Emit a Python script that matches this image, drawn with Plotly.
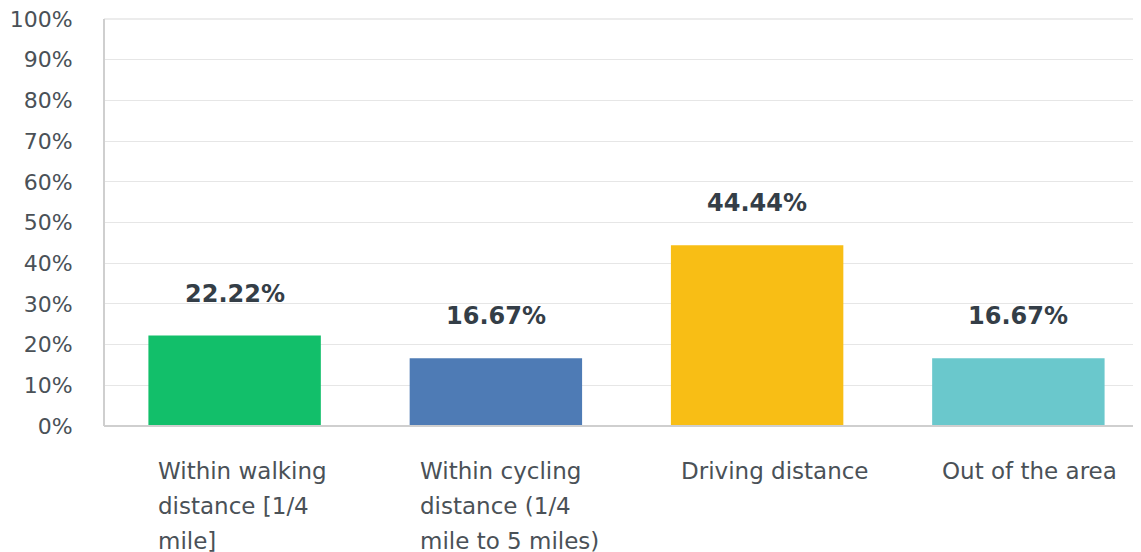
import plotly.graph_objects as go

categories = ["Within walking<br>distance [1/4<br>mile]",
              "Within cycling<br>distance (1/4<br>mile to 5 miles)",
              "Driving distance",
              "Out of the area"]
values = [22.22, 16.67, 44.44, 16.67]
colors = ["#12BF6A", "#4E7BB5", "#F8BE15", "#6AC8CC"]
value_labels = ["22.22%", "16.67%", "44.44%", "16.67%"]
y_ticks = list(range(0, 101, 10))
y_tick_labels = [f"{t}%" for t in y_ticks]

BAR_W = 0.66
FONT = "DejaVu Sans"

fig = go.Figure()
fig.add_trace(go.Bar(
    x=list(range(len(categories))),
    y=values,
    width=BAR_W,
    marker=dict(color=colors, line=dict(width=0)),
    hoverinfo="skip",
))

annotations = []
for i, (v, lab) in enumerate(zip(values, value_labels)):
    annotations.append(dict(
        x=i, y=v, xref="x", yref="y", text=f"<b>{lab}</b>",
        showarrow=False, yanchor="middle", yshift=42,
        font=dict(family=FONT, size=24, color="#343E47"),
    ))
for i, cat in enumerate(categories):
    for j, line in enumerate(cat.split("<br>")):
        annotations.append(dict(
            x=i - BAR_W / 2, y=0, xref="x", yref="y", text=line,
            showarrow=False, xanchor="left", yanchor="middle",
            xshift=8, yshift=-(45 + 35 * j),
            font=dict(family=FONT, size=23, color="#4A5157"),
        ))

fig.update_layout(
    width=1141, height=552,
    margin=dict(l=96, r=0, t=11, b=134),
    paper_bgcolor="white", plot_bgcolor="white",
    showlegend=False,
    annotations=annotations,
    xaxis=dict(range=[-0.5, 3.5], showticklabels=False, showgrid=False,
               zeroline=False, showline=False, ticks=""),
    yaxis=dict(range=[0, 100], tickvals=y_ticks, ticktext=y_tick_labels,
               showgrid=True, gridcolor="#E6E6E6", gridwidth=1,
               zeroline=False, showline=False,
               ticks="outside", ticklen=26, tickcolor="rgba(0,0,0,0)",
               ticklabeloverflow="allow",
               tickfont=dict(family=FONT, size=22, color="#4A5157")),
    shapes=[
        dict(type="line", xref="paper", yref="paper", x0=0, x1=1, y0=1, y1=1,
             line=dict(color="#E6E6E6", width=1.5)),
        dict(type="line", xref="paper", yref="paper", x0=0, x1=0, y0=0, y1=1,
             line=dict(color="#CFCFCF", width=2)),
        dict(type="line", xref="paper", yref="paper", x0=0, x1=1, y0=0, y1=0,
             line=dict(color="#CFCFCF", width=2)),
    ],
)

fig.write_html("out.html")
